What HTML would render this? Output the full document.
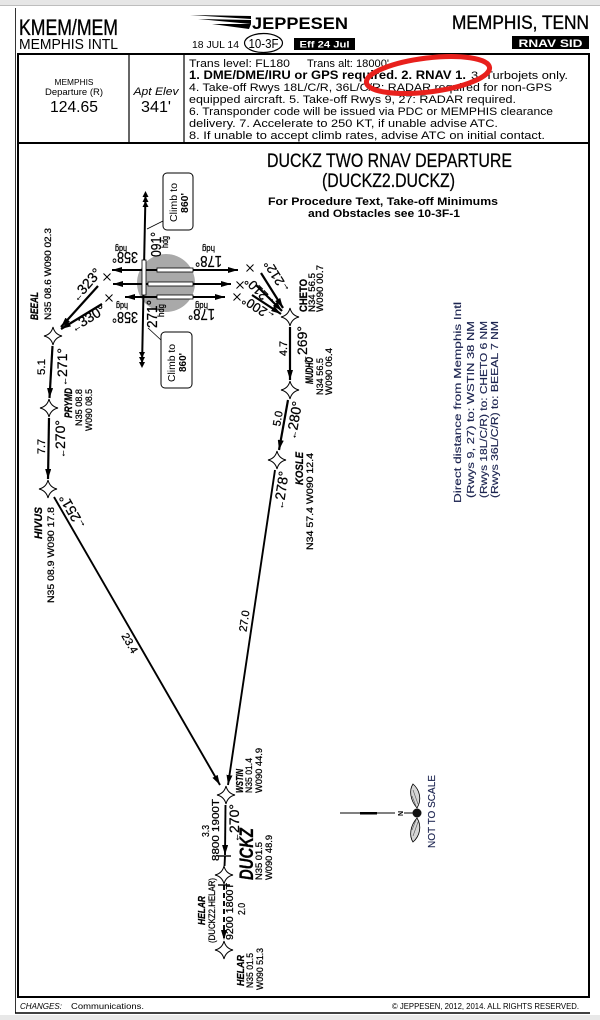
<!DOCTYPE html>
<html><head><meta charset="utf-8">
<style>
html,body{margin:0;padding:0;background:#fff;}
svg{display:block;}
text{font-family:"Liberation Sans",sans-serif;fill:#000;}
.h text{stroke:#000;stroke-width:0.25;}
.t{stroke:#000;stroke-width:0.35;}
.n text{fill:#1c2450;stroke:#1c2450;stroke-width:0.15;}
</style></head><body>
<svg width="600" height="1020" viewBox="0 0 600 1020" xmlns="http://www.w3.org/2000/svg">
<defs>
<marker id="ah" markerWidth="10" markerHeight="6" refX="10" refY="3" orient="auto-start-reverse" markerUnits="userSpaceOnUse">
<path d="M0,0 L10,3 L0,6 Z" fill="#000"/>
</marker>
<path id="star" d="M0,-9 Q1.7,-1.7 9,0 Q1.7,1.7 0,9 Q-1.7,1.7 -9,0 Q-1.7,-1.7 0,-9 Z" fill="#fff" stroke="#000" stroke-width="1"/>
</defs>

<!-- background bands -->
<rect x="0" y="0" width="600" height="5" fill="#e6e6e6"/>
<line x1="0" y1="5.5" x2="600" y2="5.5" stroke="#bdbdbd" stroke-width="1"/>
<rect x="0" y="1015" width="600" height="5" fill="#e8e8e8"/>

<!-- outer frame lines -->
<line x1="15.5" y1="8" x2="15.5" y2="1013" stroke="#333" stroke-width="1"/>
<rect x="18" y="54" width="571" height="943" fill="none" stroke="#000" stroke-width="2"/>
<line x1="18" y1="143" x2="589" y2="143" stroke="#000" stroke-width="2"/>
<line x1="129" y1="54" x2="129" y2="143" stroke="#000" stroke-width="1.2"/>
<line x1="184" y1="54" x2="184" y2="143" stroke="#000" stroke-width="1.2"/>
<line x1="15" y1="1013" x2="590" y2="1013" stroke="#000" stroke-width="1.5"/>

<!-- header -->
<text x="19" y="35" font-size="22" textLength="99" lengthAdjust="spacingAndGlyphs" class="t">KMEM/MEM</text>
<text x="19" y="49" font-size="15" textLength="99" lengthAdjust="spacingAndGlyphs">MEMPHIS INTL</text>

<path d="M190,15 L251,16 L251,19 Z" fill="#000"/>
<path d="M198,19 L251,20 L251,24 Z" fill="#000"/>
<path d="M212,24 L251,24 L249,29 Z" fill="#000"/>
<text x="252" y="29" font-size="17" font-weight="bold" textLength="96" lengthAdjust="spacingAndGlyphs">JEPPESEN</text>
<text x="192" y="48" font-size="10" textLength="47" lengthAdjust="spacingAndGlyphs">18 JUL 14</text>
<ellipse cx="263.5" cy="43" rx="19" ry="9.5" fill="none" stroke="#000" stroke-width="1.2"/>
<text x="263.5" y="48" font-size="13" text-anchor="middle" textLength="30" lengthAdjust="spacingAndGlyphs">10-3F</text>
<rect x="294" y="38" width="61" height="12" fill="#000"/>
<text x="324.5" y="47.5" font-size="9" font-weight="bold" text-anchor="middle" style="fill:#fff" textLength="50" lengthAdjust="spacingAndGlyphs">Eff 24 Jul</text>
<text x="452" y="29" font-size="19" textLength="137" lengthAdjust="spacingAndGlyphs" class="t">MEMPHIS, TENN</text>
<rect x="512" y="36" width="77" height="13" fill="#000"/>
<text x="550.5" y="47" font-size="11" font-weight="bold" text-anchor="middle" style="fill:#fff" textLength="64" lengthAdjust="spacingAndGlyphs">RNAV SID</text>

<!-- info box -->
<text x="74" y="85" font-size="8" text-anchor="middle" textLength="39" lengthAdjust="spacingAndGlyphs">MEMPHIS</text>
<text x="74" y="95" font-size="9" text-anchor="middle" textLength="58" lengthAdjust="spacingAndGlyphs">Departure (R)</text>
<text x="74" y="112" font-size="16" text-anchor="middle" textLength="48" lengthAdjust="spacingAndGlyphs">124.65</text>
<text x="156" y="95" font-size="11" font-style="italic" text-anchor="middle" textLength="45" lengthAdjust="spacingAndGlyphs">Apt Elev</text>
<text x="156" y="112" font-size="16" text-anchor="middle" textLength="30" lengthAdjust="spacingAndGlyphs">341'</text>

<text x="189" y="67" font-size="11" textLength="101" lengthAdjust="spacingAndGlyphs">Trans level: FL180</text>
<text x="307" y="67" font-size="11" textLength="82" lengthAdjust="spacingAndGlyphs">Trans alt: 18000'</text>
<text x="189" y="79" font-size="12" font-weight="bold" textLength="277" lengthAdjust="spacingAndGlyphs">1. DME/DME/IRU or GPS required. 2. RNAV 1.</text>
<text x="471" y="79" font-size="11" textLength="97" lengthAdjust="spacingAndGlyphs">3. Turbojets only.</text>
<text x="189" y="91" font-size="11" textLength="363" lengthAdjust="spacingAndGlyphs">4. Take-off Rwys 18L/C/R, 36L/C/R: RADAR required for non-GPS</text>
<text x="189" y="103" font-size="11" textLength="327" lengthAdjust="spacingAndGlyphs">equipped aircraft. 5. Take-off Rwys 9, 27: RADAR required.</text>
<text x="189" y="115" font-size="11" textLength="364" lengthAdjust="spacingAndGlyphs">6. Transponder code will be issued via PDC or MEMPHIS clearance</text>
<text x="189" y="127" font-size="11" textLength="309" lengthAdjust="spacingAndGlyphs">delivery. 7. Accelerate to 250 KT, if unable advise ATC.</text>
<text x="189" y="139" font-size="11" textLength="356" lengthAdjust="spacingAndGlyphs">8. If unable to accept climb rates, advise ATC on initial contact.</text>

<!-- red ellipse annotation -->
<ellipse cx="428" cy="75" rx="62" ry="17" transform="rotate(-7 428 75)" fill="none" stroke="#e8201c" stroke-width="5"/>

<!-- title -->
<g class="h">
<text x="267" y="167" font-size="19" textLength="245" lengthAdjust="spacingAndGlyphs">DUCKZ TWO RNAV DEPARTURE</text>
<text x="322" y="187" font-size="19" textLength="133" lengthAdjust="spacingAndGlyphs">(DUCKZ2.DUCKZ)</text>
</g>
<text x="268" y="205" font-size="11" font-weight="bold" textLength="230" lengthAdjust="spacingAndGlyphs">For Procedure Text, Take-off Minimums</text>
<text x="308" y="217" font-size="11" font-weight="bold" textLength="152" lengthAdjust="spacingAndGlyphs">and Obstacles see 10-3F-1</text>

<!-- airport -->
<circle cx="166" cy="283" r="29" fill="#a9a9a9"/>
<g stroke="#000" stroke-width="2" fill="none">
<line x1="145.5" y1="194" x2="142" y2="366"/>
<line x1="112" y1="270" x2="238" y2="270" marker-start="url(#ah)" marker-end="url(#ah)"/>
<line x1="113" y1="284" x2="231" y2="284" marker-start="url(#ah)" marker-end="url(#ah)"/>
<line x1="125" y1="297" x2="225" y2="297" marker-start="url(#ah)" marker-end="url(#ah)"/>
</g>
<g fill="#fff" stroke="#000" stroke-width="0.8">
<rect x="157" y="268" width="36" height="4"/>
<rect x="148" y="282" width="45" height="4"/>
<rect x="157" y="295" width="36" height="4"/>
<rect x="142" y="260" width="4" height="35"/>
</g>
<!-- triple arrowheads -->
<g fill="#000">
<path d="M145.5,191 l-3,6 h6 z"/><path d="M145.5,196 l-3,6 h6 z"/><path d="M145.5,201 l-3,6 h6 z"/>
<path d="M142,368 l-3,-6 h6 z"/><path d="M142,363 l-3,-6 h6 z"/><path d="M142,358 l-3,-6 h6 z"/>
</g>

<!-- climb boxes -->
<rect x="163" y="173" width="30" height="57" rx="4" fill="#fff" stroke="#000" stroke-width="1"/>
<text transform="translate(177,222) rotate(-90)" font-size="10" textLength="39" lengthAdjust="spacingAndGlyphs">Climb to</text>
<text transform="translate(188,213) rotate(-90)" font-size="10" font-weight="bold" textLength="20" lengthAdjust="spacingAndGlyphs">860'</text>
<line x1="163" y1="221" x2="147" y2="229" stroke="#000" stroke-width="0.8"/>
<rect x="161" y="332" width="31" height="56" rx="4" fill="#fff" stroke="#000" stroke-width="1"/>
<text transform="translate(175,382) rotate(-90)" font-size="10" textLength="38" lengthAdjust="spacingAndGlyphs">Climb to</text>
<text transform="translate(186,372) rotate(-90)" font-size="10" font-weight="bold" textLength="19" lengthAdjust="spacingAndGlyphs">860'</text>
<line x1="148" y1="328" x2="161" y2="340" stroke="#000" stroke-width="0.8"/>

<g class="h">
<!-- heading labels -->
<text transform="translate(138,252) rotate(180)" font-size="16" textLength="26" lengthAdjust="spacingAndGlyphs">358°</text>
<text transform="translate(127,246) rotate(180)" font-size="9" textLength="12" lengthAdjust="spacingAndGlyphs">hdg</text>
<text transform="translate(222,256) rotate(180)" font-size="16" textLength="27" lengthAdjust="spacingAndGlyphs">178°</text>
<text transform="translate(215,246) rotate(180)" font-size="9" textLength="13" lengthAdjust="spacingAndGlyphs">hdg</text>
<text transform="translate(138,312) rotate(180)" font-size="16" textLength="26" lengthAdjust="spacingAndGlyphs">358°</text>
<text transform="translate(128,303) rotate(180)" font-size="9" textLength="12" lengthAdjust="spacingAndGlyphs">hdg</text>
<text transform="translate(215,309) rotate(180)" font-size="16" textLength="27" lengthAdjust="spacingAndGlyphs">178°</text>
<text transform="translate(208,303) rotate(180)" font-size="9" textLength="13" lengthAdjust="spacingAndGlyphs">hdg</text>
<text transform="translate(161,257) rotate(-90)" font-size="15" textLength="25" lengthAdjust="spacingAndGlyphs">091°</text>
<text transform="translate(168,248) rotate(-90)" font-size="9" textLength="12" lengthAdjust="spacingAndGlyphs">hdg</text>
<text transform="translate(157,328) rotate(-90)" font-size="15" textLength="28" lengthAdjust="spacingAndGlyphs">271°</text>
<text transform="translate(164,317) rotate(-90)" font-size="9" textLength="13" lengthAdjust="spacingAndGlyphs">hdg</text>
</g>

<!-- X marks -->
<g stroke="#000" stroke-width="1">
<path d="M103.5,273.5 l7,7 M110.5,273.5 l-7,7"/>
<path d="M105.5,294.5 l7,7 M112.5,294.5 l-7,7"/>
<path d="M246.5,264.5 l7,7 M253.5,264.5 l-7,7"/>
<path d="M236.5,281.5 l7,7 M243.5,281.5 l-7,7"/>
<path d="M233.5,293.5 l7,7 M240.5,293.5 l-7,7"/>
</g>

<!-- legs -->
<g stroke="#000" stroke-width="2.2" fill="none">
<line x1="98" y1="286" x2="61" y2="327" marker-end="url(#ah)"/>
<line x1="102" y1="304" x2="61" y2="329" marker-end="url(#ah)"/>
<line x1="261" y1="273" x2="283" y2="308" marker-end="url(#ah)"/>
<line x1="256" y1="285" x2="282" y2="311" marker-end="url(#ah)"/>
<line x1="252" y1="295" x2="281" y2="314" marker-end="url(#ah)"/>
<line x1="52.5" y1="346" x2="49.5" y2="398" marker-end="url(#ah)"/>
<line x1="49" y1="418" x2="48" y2="479" marker-end="url(#ah)"/>
<line x1="290" y1="327" x2="290" y2="380" marker-end="url(#ah)"/>
<line x1="288" y1="400" x2="279" y2="450" marker-end="url(#ah)"/>
</g>
<g stroke="#000" stroke-width="1.9" fill="none">
<line x1="54" y1="497" x2="220" y2="785" marker-end="url(#ah)"/>
<line x1="275" y1="470" x2="228" y2="785" marker-end="url(#ah)"/>
<line x1="225.5" y1="805" x2="225" y2="855" marker-end="url(#ah)"/>
<line x1="225" y1="856" x2="224.5" y2="866"/>
<line x1="224" y1="885" x2="224" y2="940" stroke-dasharray="5,3" marker-end="url(#ah)"/>
</g>
<g stroke="#000" stroke-width="1.4">
<line x1="218" y1="856" x2="231" y2="856"/>
<line x1="218" y1="885" x2="230" y2="885"/>
</g>

<!-- waypoint stars -->
<use href="#star" x="53" y="336"/>
<use href="#star" x="49" y="408"/>
<use href="#star" x="48" y="489"/>
<use href="#star" x="290" y="317"/>
<use href="#star" x="290" y="390"/>
<use href="#star" x="277" y="460"/>
<use href="#star" x="226" y="795"/>
<use href="#star" x="224" y="875"/>
<use href="#star" x="224" y="950"/>

<g class="h">
<!-- course labels -->
<text transform="translate(86,284.5) rotate(-49)" y="5" font-size="14" text-anchor="middle"><tspan font-size="9">←</tspan>323°</text>
<text transform="translate(88,318) rotate(-32)" y="5" font-size="14" text-anchor="middle"><tspan font-size="9">←</tspan>330°</text>
<text transform="translate(276,277) rotate(238)" y="5" font-size="13" text-anchor="middle"><tspan font-size="9">←</tspan>212°</text>
<text transform="translate(259,292) rotate(225)" y="5" font-size="13" text-anchor="middle"><tspan font-size="9">←</tspan>210°</text>
<text transform="translate(258,309) rotate(213)" y="5" font-size="13" text-anchor="middle"><tspan font-size="9">←</tspan>200°</text>

<text transform="translate(45,375) rotate(-90)" font-size="11" textLength="16" lengthAdjust="spacingAndGlyphs">5.1</text>
<text transform="translate(67,386) rotate(-90)" font-size="14"><tspan font-size="9">←</tspan>271°</text>
<text transform="translate(45,454) rotate(-90)" font-size="11" textLength="15" lengthAdjust="spacingAndGlyphs">7.7</text>
<text transform="translate(65,458) rotate(-90)" font-size="14"><tspan font-size="9">←</tspan>270°</text>
<text transform="translate(72,512) rotate(240)" y="5" font-size="14" text-anchor="middle"><tspan font-size="9">←</tspan>251°</text>
<text transform="translate(130,643) rotate(60)" y="4" font-size="11" text-anchor="middle">23.4</text>

<text transform="translate(287,356) rotate(-90)" font-size="11" textLength="15" lengthAdjust="spacingAndGlyphs">4.7</text>
<text transform="translate(307,364) rotate(-90)" font-size="14"><tspan font-size="9">←</tspan>269°</text>
<text transform="translate(277.5,418.5) rotate(-80)" y="4" font-size="11" text-anchor="middle">5.0</text>
<text transform="translate(294,420) rotate(-80)" y="5" font-size="14" text-anchor="middle"><tspan font-size="9">←</tspan>280°</text>
<text transform="translate(281,490) rotate(-81.5)" y="5" font-size="14" text-anchor="middle"><tspan font-size="9">←</tspan>278°</text>
<text transform="translate(244,621) rotate(-81.5)" y="4" font-size="11" text-anchor="middle">27.0</text>

<text transform="translate(209,837) rotate(-90)" font-size="10" textLength="12" lengthAdjust="spacingAndGlyphs">3.3</text>
<text transform="translate(219,861) rotate(-90)" font-size="10" textLength="62" lengthAdjust="spacingAndGlyphs">8800 1900T</text>
<text transform="translate(239,842) rotate(-90)" font-size="14"><tspan font-size="9">←</tspan>270°</text>
<text transform="translate(233,940) rotate(-90)" font-size="10" textLength="57" lengthAdjust="spacingAndGlyphs">9200 1800T</text>
<text transform="translate(245,915) rotate(-90)" font-size="10" textLength="12" lengthAdjust="spacingAndGlyphs">2.0</text>

<!-- waypoint labels -->
<text transform="translate(38,320) rotate(-90)" font-size="11" font-weight="bold" font-style="italic" textLength="28" lengthAdjust="spacingAndGlyphs">BEEAL</text>
<text transform="translate(51,320) rotate(-90)" font-size="9.5" textLength="92" lengthAdjust="spacingAndGlyphs">N35 08.6  W090 02.3</text>

<text transform="translate(72,418) rotate(-90)" font-size="11" font-weight="bold" font-style="italic" textLength="30" lengthAdjust="spacingAndGlyphs">PRYMD</text>
<text transform="translate(82,426) rotate(-90)" font-size="9.5" textLength="37" lengthAdjust="spacingAndGlyphs">N35 08.8</text>
<text transform="translate(92,431) rotate(-90)" font-size="9.5" textLength="42" lengthAdjust="spacingAndGlyphs">W090 08.5</text>

<text transform="translate(42,539) rotate(-90)" font-size="11" font-weight="bold" font-style="italic" textLength="32" lengthAdjust="spacingAndGlyphs">HIVUS</text>
<text transform="translate(54,603) rotate(-90)" font-size="9.5" textLength="96" lengthAdjust="spacingAndGlyphs">N35 08.9  W090 17.8</text>

<text transform="translate(307,312) rotate(-90)" font-size="11" font-weight="bold" textLength="33" lengthAdjust="spacingAndGlyphs">CHETO</text>
<text transform="translate(315,312) rotate(-90)" font-size="9" textLength="39" lengthAdjust="spacingAndGlyphs">N34 56.5</text>
<text transform="translate(323,312) rotate(-90)" font-size="9" textLength="47" lengthAdjust="spacingAndGlyphs">W090 00.7</text>

<text transform="translate(313,384) rotate(-90)" font-size="11" font-weight="bold" font-style="italic" textLength="27" lengthAdjust="spacingAndGlyphs">MUDHO</text>
<text transform="translate(323,395) rotate(-90)" font-size="9" textLength="37" lengthAdjust="spacingAndGlyphs">N34 56.5</text>
<text transform="translate(332,395) rotate(-90)" font-size="9" textLength="47" lengthAdjust="spacingAndGlyphs">W090 06.4</text>

<text transform="translate(303,485) rotate(-90)" font-size="11" font-weight="bold" font-style="italic" textLength="33" lengthAdjust="spacingAndGlyphs">KOSLE</text>
<text transform="translate(313,550) rotate(-90)" font-size="9" textLength="97" lengthAdjust="spacingAndGlyphs">N34 57.4  W090 12.4</text>

<text transform="translate(243,793) rotate(-90)" font-size="10.5" font-weight="bold" font-style="italic" textLength="24" lengthAdjust="spacingAndGlyphs">WSTIN</text>
<text transform="translate(252,793) rotate(-90)" font-size="9" textLength="35" lengthAdjust="spacingAndGlyphs">N35 01.4</text>
<text transform="translate(262,793) rotate(-90)" font-size="9" textLength="45" lengthAdjust="spacingAndGlyphs">W090 44.9</text>

<text transform="translate(253,880) rotate(-90)" font-size="19" font-weight="bold" font-style="italic" textLength="52" lengthAdjust="spacingAndGlyphs">DUCKZ</text>
<text transform="translate(262,880) rotate(-90)" font-size="9" textLength="38" lengthAdjust="spacingAndGlyphs">N35 01.5</text>
<text transform="translate(272,880) rotate(-90)" font-size="9" textLength="45" lengthAdjust="spacingAndGlyphs">W090 48.9</text>

<text transform="translate(205,925) rotate(-90)" font-size="10.5" font-weight="bold" font-style="italic" textLength="29" lengthAdjust="spacingAndGlyphs">HELAR</text>
<text transform="translate(215,943) rotate(-90)" font-size="9" textLength="65" lengthAdjust="spacingAndGlyphs">(DUCKZ2.HELAR)</text>

<text transform="translate(244,986) rotate(-90)" font-size="10.5" font-weight="bold" font-style="italic" textLength="31" lengthAdjust="spacingAndGlyphs">HELAR</text>
<text transform="translate(253,988) rotate(-90)" font-size="9" textLength="35" lengthAdjust="spacingAndGlyphs">N35 01.5</text>
<text transform="translate(263,990) rotate(-90)" font-size="9" textLength="42" lengthAdjust="spacingAndGlyphs">W090 51.3</text>
</g>

<!-- direct distance note -->
<g class="n">
<text transform="translate(461,503) rotate(-90)" font-size="10" textLength="201" lengthAdjust="spacingAndGlyphs">Direct distance from Memphis Intl</text>
<text transform="translate(474,498) rotate(-90)" font-size="10" textLength="177" lengthAdjust="spacingAndGlyphs">(Rwys 9, 27) to: WSTIN 38 NM</text>
<text transform="translate(487,498) rotate(-90)" font-size="10" textLength="177" lengthAdjust="spacingAndGlyphs">(Rwys 18L/C/R) to: CHETO 6 NM</text>
<text transform="translate(498,498) rotate(-90)" font-size="10" textLength="177" lengthAdjust="spacingAndGlyphs">(Rwys 36L/C/R) to: BEEAL 7 NM</text>
</g>

<!-- compass / not to scale -->
<line x1="340" y1="813" x2="395" y2="813" stroke="#000" stroke-width="1"/>
<rect x="360" y="812" width="17" height="2.5" fill="#000"/>
<text transform="translate(403,816) rotate(-90)" font-size="7" font-weight="bold">N</text>
<line x1="404" y1="813" x2="413" y2="813" stroke="#000" stroke-width="1"/>
<path d="M417,808 C410,800 409,790 413,784 C420,790 422,800 417,808 Z" fill="#d6d6d6" stroke="#000" stroke-width="0.8"/>
<path d="M417,818 C410,826 409,836 413,842 C420,836 422,826 417,818 Z" fill="#d6d6d6" stroke="#000" stroke-width="0.8"/>
<path d="M413,790 L418,804 M412,796 L416,806 M413,836 L418,822 M412,830 L416,820" stroke="#555" stroke-width="0.6"/>
<circle cx="417" cy="813" r="4.5" fill="#111"/>
<g class="n">
<text transform="translate(435,848) rotate(-90)" font-size="10" textLength="73" lengthAdjust="spacingAndGlyphs">NOT TO SCALE</text>
</g>

<!-- footer -->
<text x="20" y="1009" font-size="8.5" font-style="italic" textLength="42" lengthAdjust="spacingAndGlyphs">CHANGES:</text>
<text x="71" y="1009" font-size="8.5" textLength="73" lengthAdjust="spacingAndGlyphs">Communications.</text>
<text x="392" y="1009" font-size="8.5" textLength="187" lengthAdjust="spacingAndGlyphs">© JEPPESEN, 2012, 2014. ALL RIGHTS RESERVED.</text>
</svg>
</body></html>
